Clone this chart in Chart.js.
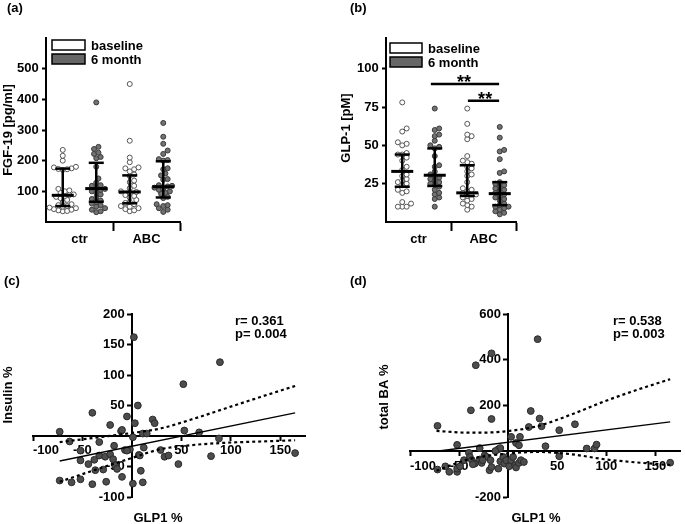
<!DOCTYPE html>
<html>
<head>
<meta charset="utf-8">
<script src="https://cdn.jsdelivr.net/npm/chart.js@4.4.1/dist/chart.umd.min.js"></script>
<style>
  html, body { margin: 0; padding: 0; background: #fff; }
  #page { position: relative; width: 685px; height: 524px; overflow: hidden; }
  .panel { position: absolute; }
</style>
</head>
<body>
<div id="page">
  <div class="panel" style="left:0;top:0"><canvas id="chartA" width="340" height="260"></canvas></div>
  <div class="panel" style="left:340px;top:0"><canvas id="chartB" width="345" height="260"></canvas></div>
  <div class="panel" style="left:0;top:260px"><canvas id="chartC" width="340" height="264"></canvas></div>
  <div class="panel" style="left:340px;top:260px"><canvas id="chartD" width="345" height="264"></canvas></div>
</div>
<script>
// ---- data ----
const groups = ['ctr', 'ABC'];
const seriesNames = ['baseline', '6 month'];
const colCenters = [0.5, 1.5, 2.5, 3.5];   // ctr/baseline, ctr/6m, ABC/baseline, ABC/6m

// (a) FGF-19 [pg/ml]
const fgfCtrBase = [235, 216, 200, 180, 178, 175, 173, 172, 170, 108, 103, 100, 95, 90, 88, 85, 82, 78, 72, 65, 58, 55, 52, 50, 47, 45, 42, 40, 38, 36, 35];
const fgfCtr6m = [390, 245, 238, 226, 222, 212, 208, 180, 142, 128, 120, 118, 112, 108, 105, 100, 95, 90, 80, 75, 70, 65, 60, 55, 50, 45, 40, 35, 32];
const fgfAbcBase = [450, 265, 210, 195, 178, 175, 172, 165, 155, 150, 135, 130, 118, 110, 100, 98, 95, 88, 85, 80, 72, 65, 62, 58, 52, 50, 45, 42, 38, 35];
const fgfAbc6m = [323, 278, 255, 233, 222, 205, 202, 200, 175, 172, 158, 152, 140, 138, 120, 118, 116, 112, 108, 105, 100, 95, 92, 82, 78, 58, 55, 52, 45, 40, 33];
const fgfMedian = [87, 109, 98, 115];
const fgfQ1 = [52, 66, 61, 80];
const fgfQ3 = [174, 193, 152, 198];
const fgfTicks = [100, 200, 300, 400, 500];

// (b) GLP-1 [pM]
const glpCtrBase = [78, 61, 59, 52, 51, 50, 45, 44, 44, 42, 40, 36, 34, 31, 30, 28, 27, 26, 25, 24, 21, 20, 19, 13, 12, 10, 10, 10];
const glpCtr6m = [74, 61, 60, 57, 56, 53, 50, 49, 48, 43, 37, 36, 33, 31, 30, 29, 28, 27, 26, 25, 24, 23, 21, 19, 18, 16, 15, 10];
const glpAbcBase = [74, 64, 57, 56, 54, 43, 40, 39, 38, 36, 35, 33, 31, 30, 26, 22, 21, 20, 19, 18, 18, 17, 16, 15, 14, 12, 11, 10, 8];
const glpAbc6m = [62, 55, 47, 46, 41, 33, 32, 26, 25, 24, 23, 22, 21, 20, 19, 18, 17, 16, 15, 14, 12, 11, 10, 10, 9, 8, 7, 6, 5];
const glpMedian = [33, 30.5, 19, 18.5];
const glpQ1 = [23, 23.5, 17, 11];
const glpQ3 = [44, 48, 37, 26];
const glpTicks = [25, 50, 75, 100];
const sigFrom = [1.38, 2.52];
const sigTo = [3.48, 3.48];
const sigY = [90, 79];
const sigTextX = [2.4, 3.05];
const sigLabel = ['**', '**'];

// x-axis of the dot plots: group labels in the middle, group borders ticked
const groupTickValues = [1, 2, 3, 4];
const groupTickLabels = [groups[0], '', groups[1], ''];

// (c) GLP1 % vs Insulin %
const glpPctC = [-73, -63, -52, -52, -44, -40, -38, -33, -33, -27, -29, -37, -22, -22, -19, -18, -17, -15, -11, -10, -10, -7, -5, -2, 1, 2, 3, 6, 7, 9, 11, 15, 12, 21, 23, 29, 33, 37, 47, 52, 53, 68, 80, 88, 89, 165, -73, -61, -52, -40, -26, 1, 11, -5, 8];
const insulinPct = [7, -9, -24, -40, -46, 38, -39, -10, -32, -34, -55, -56, 18, -30, -38, -16, -48, -54, 8, 10, -67, -23, 32, -22, -2, 162, 21, 50, -31, -57, 4, 4, -19, 27, 21, -23, -34, -32, -46, 85, 9, 6, -33, -4, 121, -28, -73, -76, -71, -79, -75, -78, -76, -24, -32];
const fitXC = [-73, 165];
const fitYC = [-41, 38];
const bandXC = [-73, -38, 0, 28, 60, 96, 130, 165];
const bandHiC = [-10, -3, 5, 12, 27, 46, 64, 82];
const bandLoC = [-75, -56, -36, -22, -15, -11, -9, -7];
const statsC = ['r= 0.361', 'p= 0.004'];

// (d) GLP1 % vs total BA %
const glpPctD = [-72, -38, -33, -17, -17, 30, 23, 32, 21, 34, 68, 52, 3, 12, 8, 11, 38, -52, -29, -10, -8, -13, 80, 88, 90, 52, 165, -72, -64, -60, -52, -52, -49, -45, -40, -39, -37, -34, -29, -27, -24, -22, -18, -19, -17, -10, -8, -5, -4, -2, 1, 3, 5, 7, 8, 11, 13, 16, -36, -26];
const totalBaPct = [111, 179, 376, 428, 141, 490, 176, 143, 106, 109, 118, 92, 63, 63, 36, 26, 22, 28, 14, 9, 14, 1, 12, 12, 29, -22, -50, -80, -66, -90, -90, -76, -66, -39, -7, -25, -39, -54, -36, -51, -18, -25, -39, -83, -69, -76, -44, -25, -54, -39, -66, -39, -25, -61, -71, -51, -39, -47, -57, -39];
const fitXD = [-73, 165];
const fitYD = [0, 128];
const bandXD = [-73, -40, -5, 30, 64, 98, 131, 165];
const bandHiD = [89, 81, 86, 110, 160, 218, 268, 315];
const bandLoD = [-85, -35, -12, -3, -13, -35, -49, -60];
const statsD = ['r= 0.538', 'p= 0.003'];

const pctTicksX = [-100, -50, 0, 50, 100, 150, 175];
const pctTickLabelsX = ['-100', '-50', '', '50', '100', '150', ''];
const insTicks = [-100, -50, 0, 50, 100, 150, 200];
const insTickLabels = ['-100', '-50', '', '50', '100', '150', '200'];
const baTicks = [-200, 0, 200, 400, 600];
const baTickLabels = ['-200', '', '200', '400', '600'];

// ---- styling ----
const FONT = '"Liberation Sans", Arial, sans-serif';
Chart.defaults.font.family = FONT;
Chart.defaults.font.size = 13;
Chart.defaults.font.weight = 'bold';
Chart.defaults.color = '#000';
Chart.defaults.animation = false;

const GRAY_DOT = '#727272';
const DARK_DOT = '#4d4d4d';

// titles, panel letters, legend boxes
const panelDecor = {
    id: 'panelDecor',
    afterDraw(chart, args, o) {
        const ctx = chart.ctx;
        ctx.save();
        (o.boxes || []).forEach(b => {
            ctx.fillStyle = b.fill;
            ctx.strokeStyle = '#000';
            ctx.lineWidth = 1.5;
            ctx.fillRect(b.x, b.y, b.w, b.h);
            ctx.strokeRect(b.x, b.y, b.w, b.h);
        });
        (o.texts || []).forEach(t => {
            ctx.save();
            ctx.font = `bold ${t.size || 13}px ${FONT}`;
            ctx.fillStyle = '#000';
            ctx.textAlign = t.align || 'left';
            ctx.textBaseline = 'middle';
            ctx.translate(t.x, t.y);
            if (t.rotate) ctx.rotate(-Math.PI / 2);
            ctx.fillText(t.text, 0, 0);
            ctx.restore();
        });
        ctx.restore();
    }
};

// median + interquartile range bars and significance brackets
const summaryBars = {
    id: 'summaryBars',
    afterDatasetsDraw(chart, args, o) {
        if (!o.median) return;
        const ctx = chart.ctx;
        const x = chart.scales.x, y = chart.scales.y;
        const seg = (x1, y1, x2, y2, w) => {
            ctx.lineWidth = w;
            ctx.beginPath();
            ctx.moveTo(x1, y1);
            ctx.lineTo(x2, y2);
            ctx.stroke();
        };
        ctx.save();
        ctx.strokeStyle = '#000';
        o.median.forEach((m, i) => {
            const cx = x.getPixelForValue(colCenters[i]);
            const y1 = y.getPixelForValue(o.q1[i]);
            const y3 = y.getPixelForValue(o.q3[i]);
            const ym = y.getPixelForValue(m);
            seg(cx, y1, cx, y3, 2.5);
            seg(cx - 7.5, y1, cx + 7.5, y1, 2.5);
            seg(cx - 7.5, y3, cx + 7.5, y3, 2.5);
            seg(cx - 11, ym, cx + 11, ym, 3);
        });
        (o.sigFrom || []).forEach((f, i) => {
            const yy = y.getPixelForValue(o.sigY[i]);
            seg(x.getPixelForValue(f), yy, x.getPixelForValue(o.sigTo[i]), yy, 2.5);
            ctx.font = `bold 18px ${FONT}`;
            ctx.fillStyle = '#000';
            ctx.textAlign = 'center';
            ctx.textBaseline = 'alphabetic';
            ctx.fillText(o.sigLabel[i], x.getPixelForValue(o.sigTextX[i]), yy + 4);
        });
        ctx.restore();
    }
};

const axisBorder = { display: true, color: '#000', width: 2 };

function setTicks(values) {
    return scale => { scale.ticks = values.map(v => ({ value: v })); };
}

// beeswarm: each dot takes the closest free slot to the column centre (in pixels)
function swarm(chart, center, values, dist) {
    const xs = chart.scales.x, ys = chart.scales.y;
    const unit = xs.getPixelForValue(1) - xs.getPixelForValue(0);
    const placed = [];
    return values.slice().sort((a, b) => a - b).map(v => {
        const py = ys.getPixelForValue(v);
        for (let k = 0; k < 80; k++) {
            const off = k === 0 ? 0 : (k % 2 ? 1 : -1) * Math.ceil(k / 2) * dist / 2;
            const free = placed.every(p => (p.x - off) ** 2 + (p.y - py) ** 2 >= dist * dist);
            if (free) {
                placed.push({ x: off, y: py });
                return { x: center + off / unit, y: v };
            }
        }
        return { x: center, y: v };
    });
}

function makeDotPlot(id, columns, stats, yMax, yTicks, decor, sig) {
    const fills = ['#fff', GRAY_DOT, '#fff', GRAY_DOT];
    const chart = new Chart(document.getElementById(id), {
        type: 'scatter',
        data: {
            datasets: columns.map((c, i) => ({
                data: [],
                pointRadius: 2.5,
                pointBackgroundColor: fills[i],
                pointBorderColor: i % 2 ? '#3a3a3a' : '#555',
                pointBorderWidth: 1
            }))
        },
        options: {
            responsive: false,
            events: [],
            layout: { padding: decor.padding },
            scales: {
                x: {
                    type: 'linear', min: 0, max: 4, position: { y: 0 },
                    afterBuildTicks: setTicks(groupTickValues),
                    ticks: { autoSkip: false, maxRotation: 0, padding: 2, callback: (v, i) => groupTickLabels[i] },
                    grid: {
                        drawOnChartArea: false, tickLength: 8, tickWidth: 2,
                        tickColor: ctx => groupTickLabels[ctx.index] === '' ? '#000' : 'rgba(0,0,0,0)'
                    },
                    border: axisBorder
                },
                y: {
                    type: 'linear', min: 0, max: yMax, position: { x: 0 },
                    afterBuildTicks: setTicks(yTicks),
                    // label sits on the axis pixel, the trailing space keeps it off the tick mark
                    ticks: { callback: v => v + '  ' },
                    grid: { drawOnChartArea: false, tickLength: 3, tickWidth: 2, color: '#000' },
                    border: axisBorder
                }
            },
            plugins: {
                legend: { display: false },
                tooltip: { enabled: false },
                panelDecor: decor,
                summaryBars: Object.assign({ median: stats[0], q1: stats[1], q3: stats[2] }, sig || {})
            }
        },
        plugins: [panelDecor, summaryBars]
    });
    columns.forEach((vals, i) => {
        chart.data.datasets[i].data = swarm(chart, colCenters[i], vals, 4.4);
    });
    chart.update('none');
    return chart;
}

function makeCorrelation(id, xs, ys, fitX, fitY, bandX, bandHi, bandLo, yMin, yMax, yTicks, yTickLabels, decor) {
    const pts = (a, b) => a.map((v, i) => ({ x: v, y: b[i] }));
    const dotted = { borderColor: '#000', borderWidth: 2.2, borderDash: [3, 3], pointRadius: 0, showLine: true, cubicInterpolationMode: 'monotone', fill: false };
    return new Chart(document.getElementById(id), {
        type: 'scatter',
        data: {
            datasets: [
                { data: pts(fitX, fitY), showLine: true, borderColor: '#000', borderWidth: 1.3, pointRadius: 0 },
                Object.assign({ data: pts(bandX, bandHi) }, dotted),
                Object.assign({ data: pts(bandX, bandLo) }, dotted),
                { data: pts(xs, ys), pointRadius: 3.4, pointBackgroundColor: DARK_DOT, pointBorderColor: '#2a2a2a', pointBorderWidth: 1 }
            ]
        },
        options: {
            responsive: false,
            events: [],
            layout: { padding: decor.padding },
            scales: {
                x: {
                    type: 'linear', min: -100, max: 175, position: { y: 0 },
                    afterBuildTicks: setTicks(pctTicksX),
                    ticks: { align: 'inner', autoSkip: false, maxRotation: 0, padding: 3, callback: (v, i) => pctTickLabelsX[i] },
                    grid: {
                        drawOnChartArea: false, tickLength: 4, tickWidth: 2,
                        tickColor: ctx => pctTickLabelsX[ctx.index] === '' ? 'rgba(0,0,0,0)' : '#000'
                    },
                    border: axisBorder
                },
                y: {
                    type: 'linear', min: yMin, max: yMax, position: { x: 0 },
                    afterBuildTicks: setTicks(yTicks),
                    ticks: { callback: (v, i) => yTickLabels[i] + '  ' },
                    grid: {
                        drawOnChartArea: false, tickLength: 4, tickWidth: 2,
                        tickColor: ctx => yTickLabels[ctx.index] === '' ? 'rgba(0,0,0,0)' : '#000'
                    },
                    border: axisBorder
                }
            },
            plugins: {
                legend: { display: false },
                tooltip: { enabled: false },
                panelDecor: decor
            }
        },
        plugins: [panelDecor]
    });
}

makeDotPlot('chartA', [fgfCtrBase, fgfCtr6m, fgfAbcBase, fgfAbc6m], [fgfMedian, fgfQ1, fgfQ3], 600, fgfTicks, {
    padding: { left: 46, right: 160, top: 38, bottom: 38 },
    boxes: [
        { x: 52, y: 40, w: 33, h: 10, fill: '#fff' },
        { x: 52, y: 54, w: 33, h: 10, fill: '#666' }
    ],
    texts: [
        { text: '(a)', x: 7, y: 8 },
        { text: seriesNames[0], x: 91, y: 46 },
        { text: seriesNames[1], x: 91, y: 60 },
        { text: 'FGF-19 [pg/ml]', x: 8, y: 130, align: 'center', rotate: true }
    ]
});

makeDotPlot('chartB', [glpCtrBase, glpCtr6m, glpAbcBase, glpAbc6m], [glpMedian, glpQ1, glpQ3], 120, glpTicks, {
    padding: { left: 46, right: 169, top: 38, bottom: 38 },
    boxes: [
        { x: 50, y: 43, w: 32, h: 10, fill: '#fff' },
        { x: 50, y: 57, w: 32, h: 10, fill: '#666' }
    ],
    texts: [
        { text: '(b)', x: 10, y: 8 },
        { text: seriesNames[0], x: 88, y: 49 },
        { text: seriesNames[1], x: 88, y: 63 },
        { text: 'GLP-1 [pM]', x: 6, y: 128, align: 'center', rotate: true }
    ]
}, { sigFrom, sigTo, sigY, sigTextX, sigLabel });

makeCorrelation('chartC', glpPctC, insulinPct, fitXC, fitYC, bandXC, bandHiC, bandLoC, -100, 200, insTicks, insTickLabels, {
    padding: { left: 33, right: 35, top: 54, bottom: 27 },
    texts: [
        { text: '(c)', x: 4, y: 21 },
        { text: statsC[0], x: 235, y: 61 },
        { text: statsC[1], x: 235, y: 74 },
        { text: 'Insulin %', x: 8, y: 135, align: 'center', rotate: true },
        { text: 'GLP1 %', x: 158, y: 258, align: 'center' }
    ]
});

makeCorrelation('chartD', glpPctD, totalBaPct, fitXD, fitYD, bandXD, bandHiD, bandLoD, -200, 600, baTicks, baTickLabels, {
    padding: { left: 70, right: 2, top: 54, bottom: 27 },
    texts: [
        { text: '(d)', x: 10, y: 21 },
        { text: statsD[0], x: 273, y: 61 },
        { text: statsD[1], x: 273, y: 74 },
        { text: 'total BA %', x: 44, y: 137, align: 'center', rotate: true },
        { text: 'GLP1 %', x: 196, y: 258, align: 'center' }
    ]
});
</script>
</body>
</html>
